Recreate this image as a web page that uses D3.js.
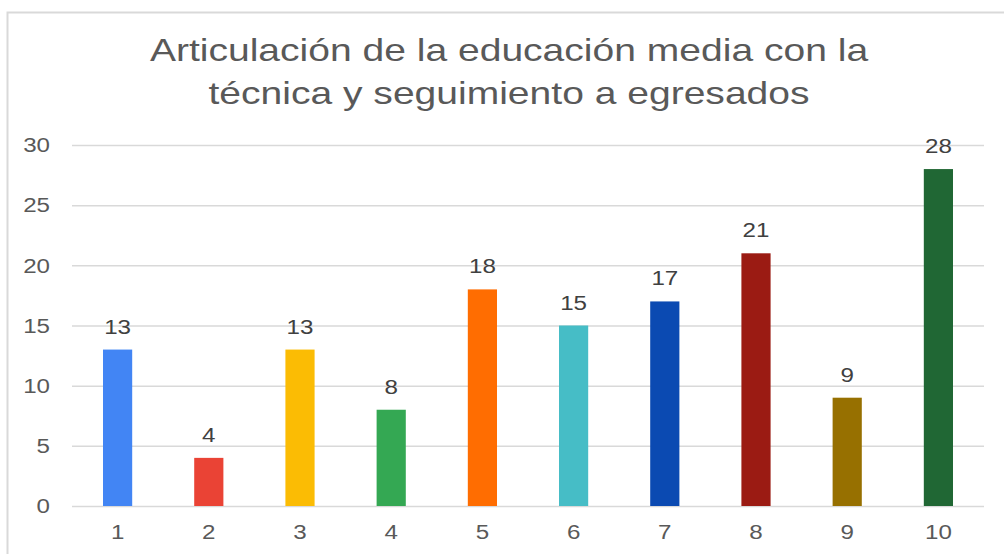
<!DOCTYPE html>
<html>
<head>
<meta charset="utf-8">
<script src="https://cdn.jsdelivr.net/npm/d3@7"></script>
<style>
  body { margin: 0; background: #fff; }
  svg { display: block; font-family: "Liberation Sans", Arial, sans-serif; }
</style>
</head>
<body>
<svg id="chart" width="1004" height="554"></svg>
<script>
// data
const categories = ['1', '2', '3', '4', '5', '6', '7', '8', '9', '10'];
const values = [13, 4, 13, 8, 18, 15, 17, 21, 9, 28];
const colors = ['#4285f4', '#ea4335', '#fbbc04', '#34a853', '#ff6d01',
                '#46bdc6', '#0b4ab2', '#9b1b13', '#977000', '#206734'];
const yTicks = [0, 5, 10, 15, 20, 25, 30];
const titleLines = ['Articulación de la educación media con la',
                    'técnica y seguimiento a egresados'];

// the source picture is stretched sideways a little
let stretch = 1.15,
    titleStretch = 1.22;

let svg = d3.select('#chart');

let margin = {top: 145, right: 20, bottom: 48, left: 72},
    width = 984 - margin.left,
    height = 506 - margin.top;

// outer chart border
svg.append('rect')
    .attr('x', 7.5).attr('y', 12.5)
    .attr('width', 1010).attr('height', 560)
    .attr('fill', 'none')
    .attr('stroke', '#d9d9d9')
    .attr('stroke-width', 2);

titleLines.forEach((t, i) => {
    svg.append('text')
        .attr('transform', `translate(509,${61 + i * 43}) scale(${titleStretch},1)`)
        .attr('text-anchor', 'middle')
        .attr('fill', '#595959')
        .style('font-size', '32px')
        .text(t);
});

let x = d3.scaleBand()
    .domain(categories)
    .range([0, width])
    .paddingInner(0.68)
    .paddingOuter(0.34);

let y = d3.scaleLinear()
    .domain([0, 30])
    .range([height, 0]);

let g = svg.append('g')
    .attr('transform', `translate(${margin.left},${margin.top})`);

// gridlines
g.append('g')
    .call(d3.axisLeft(y).tickValues(yTicks).tickSize(-width).tickFormat(''))
    .call(s => s.select('.domain').remove())
    .selectAll('line')
    .attr('stroke', '#d9d9d9')
    .attr('stroke-width', 1.5);

// y labels
g.append('g')
    .call(d3.axisLeft(y).tickValues(yTicks).tickSize(0))
    .call(s => s.select('.domain').remove())
    .selectAll('text')
    .attr('x', 0)
    .attr('transform', `translate(-22,0) scale(${stretch},1)`)
    .attr('fill', '#595959')
    .style('font-size', '21px')
    .style('font-family', '"Liberation Sans", Arial, sans-serif');

// x labels
g.append('g')
    .attr('transform', `translate(0,${height})`)
    .call(d3.axisBottom(x).tickSize(0))
    .call(s => s.select('.domain').remove())
    .selectAll('text')
    .attr('y', 0)
    .attr('transform', `translate(0,18) scale(${stretch},1)`)
    .attr('fill', '#595959')
    .style('font-size', '21px')
    .style('font-family', '"Liberation Sans", Arial, sans-serif');

g.selectAll('rect.bar')
    .data(values)
  .enter().append('rect')
    .attr('class', 'bar')
    .attr('x', (d, i) => x(categories[i]))
    .attr('y', d => y(d))
    .attr('width', x.bandwidth())
    .attr('height', d => height - y(d))
    .attr('fill', (d, i) => colors[i]);

g.selectAll('text.val')
    .data(values)
  .enter().append('text')
    .attr('class', 'val')
    .attr('transform', (d, i) =>
        `translate(${x(categories[i]) + x.bandwidth() / 2},${y(d) - 16}) scale(${stretch},1)`)
    .attr('text-anchor', 'middle')
    .attr('fill', '#404040')
    .style('font-size', '21px')
    .text(d => d);
</script>
</body>
</html>
